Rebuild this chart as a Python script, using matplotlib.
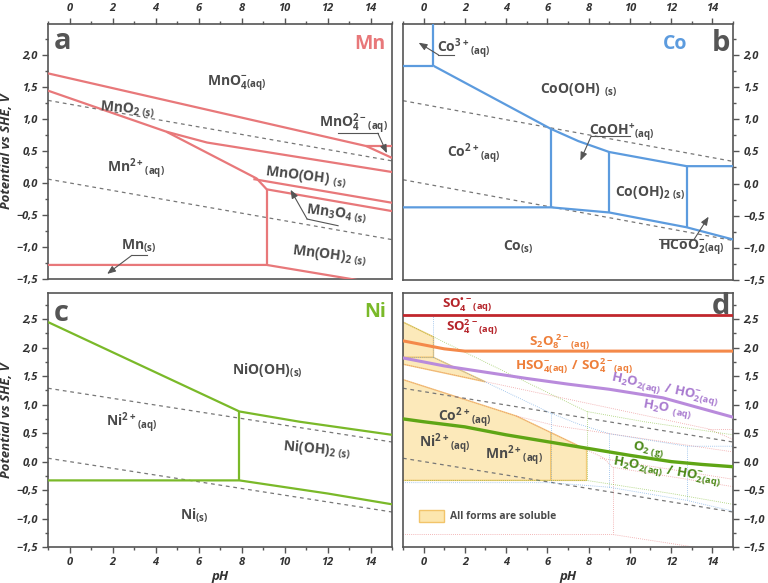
import matplotlib
matplotlib.use("Agg")
import matplotlib.pyplot as plt
from matplotlib.ticker import MultipleLocator, FuncFormatter
from matplotlib.patches import Polygon, Patch
import numpy as np

plt.rcParams['font.family'] = ['Open Sans', 'DejaVu Sans']
plt.rcParams['mathtext.fontset'] = 'custom'
plt.rcParams['mathtext.rm'] = 'Open Sans:bold'
plt.rcParams['mathtext.it'] = 'Open Sans:bold'
plt.rcParams['mathtext.bf'] = 'Open Sans:bold'
plt.rcParams['mathtext.default'] = 'bf'

# ---------------- data ----------------
water_ph = [-1, 15]
water_upper = [1.288, 0.344]
water_lower = [0.059, -0.885]

# Mn diagram boundaries (pH, E)
mn_top_ph = [-1, 13.8, 15];            mn_top_e = [1.71, 0.575, 0.39]
mn_o4_ph = [13.8, 15];                 mn_o4_e = [0.575, 0.575]
mn_mn2_ph = [-1, 4.5, 8.7, 9.17];      mn_mn2_e = [1.44, 0.80, 0.07, -0.10]
mn_mno2_ph = [4.5, 6.4, 15];           mn_mno2_e = [0.80, 0.63, 0.17]
mn_mnooh_ph = [8.55, 15];              mn_mnooh_e = [0.06, -0.31]
mn_m3o4_ph = [9.17, 15];               mn_m3o4_e = [-0.10, -0.44]
mn_vert_ph = [9.17, 9.17];             mn_vert_e = [-0.10, -1.28]
mn_metal_ph = [-1, 9.17, 13.1, 15];    mn_metal_e = [-1.28, -1.28, -1.50, -1.61]

# Co diagram boundaries
co_3v_ph = [0.48, 0.48];               co_3v_e = [1.83, 2.6]
co_3h_ph = [-1, 0.48];                 co_3h_e = [1.83, 1.83]
co_up_ph = [0.48, 6.17, 7.5, 9.0, 12.75, 15]
co_up_e = [1.83, 0.85, 0.66, 0.49, 0.27, 0.27]
co_v1_ph = [6.17, 6.17];               co_v1_e = [0.85, -0.37]
co_v2_ph = [9.0, 9.0];                 co_v2_e = [0.49, -0.45]
co_v3_ph = [12.75, 12.75];             co_v3_e = [0.27, -0.68]
co_low_ph = [-1, 6.17, 9.0, 12.75, 15]
co_low_e = [-0.37, -0.37, -0.45, -0.68, -0.87]

# Ni diagram boundaries
ni_up_ph = [-1, 7.9, 10.7, 15];        ni_up_e = [2.45, 0.88, 0.70, 0.47]
ni_v_ph = [7.9, 7.9];                  ni_v_e = [0.88, -0.33]
ni_low_ph = [-1, 7.9, 12.0, 15];       ni_low_e = [-0.33, -0.33, -0.56, -0.75]

# d: oxidant / reductant lines
so4r_ph = [-1, 15];                    so4r_e = [2.58, 2.58]
s2o8_ph = [-1, 0, 1, 2, 15];           s2o8_e = [2.12, 2.05, 1.98, 1.94, 1.94]
h2o2_ph = [-1, 1, 3, 5, 7, 9, 11.6, 13, 15]
h2o2_e = [1.82, 1.68, 1.57, 1.46, 1.36, 1.27, 1.12, 0.98, 0.78]
o2_ph = [-1, 0, 2, 4, 6, 8, 10, 12, 13.5, 15]
o2_e = [0.75, 0.70, 0.61, 0.47, 0.35, 0.23, 0.11, 0.0, -0.05, -0.09]

# "all forms soluble" polygons
sol_box = [(-1, 2.45), (0.48, 2.19), (0.48, 1.83), (-1, 1.83)]
sol_band = [(-1, 1.83), (0.48, 1.83), (3.0, 1.40), (-1, 1.71)]
sol_main = [(-1, 1.44), (4.5, 0.80), (6.17, 0.51), (6.17, -0.33), (-1, -0.33)]
sol_right = [(6.17, 0.51), (7.9, 0.21), (7.9, -0.33), (6.17, -0.33)]

# ---------------- style ----------------
C_MN = '#E8787A'
C_CO = '#5C9BDE'
C_NI = '#7AB929'
TXT = '#4B4B4B'
SPINE = '#555555'

fig = plt.figure(figsize=(7.68, 5.83), dpi=100)
ax_a = fig.add_axes([0.0625, 0.5214, 0.448, 0.4374])
ax_b = fig.add_axes([0.5247, 0.5197, 0.4297, 0.4391])
ax_c = fig.add_axes([0.0625, 0.0617, 0.448, 0.4357])
ax_d = fig.add_axes([0.5247, 0.0617, 0.4297, 0.4357])

fmt = FuncFormatter(lambda v, p: f'{v:.1f}'.replace('.', ',').replace('-', '\u2212'))
xfmt = FuncFormatter(lambda v, p: f'{v:.0f}')


def style(ax, ylim, xpos, ypos):
    ax.set_xlim(-1, 15)
    ax.set_ylim(*ylim)
    ax.xaxis.set_major_locator(MultipleLocator(2))
    ax.xaxis.set_minor_locator(MultipleLocator(1))
    ax.yaxis.set_major_locator(MultipleLocator(0.5))
    ax.yaxis.set_minor_locator(MultipleLocator(0.25))
    ax.yaxis.set_major_formatter(fmt)
    ax.xaxis.set_major_formatter(xfmt)
    for s in ax.spines.values():
        s.set_color(SPINE)
        s.set_linewidth(1.2)
    ax.tick_params(which='both', direction='out', color=SPINE, width=1.0,
                   labelsize=8, labelcolor='#333333')
    ax.tick_params(which='major', length=4)
    ax.tick_params(which='minor', length=2.5)
    if xpos == 'top':
        ax.xaxis.tick_top()
    else:
        ax.xaxis.tick_bottom()
    if ypos == 'right':
        ax.yaxis.tick_right()
    else:
        ax.yaxis.tick_left()
    for lab in ax.get_xticklabels() + ax.get_yticklabels():
        lab.set_fontweight('bold')
        lab.set_fontstyle('italic')


def water(ax):
    ax.plot(water_ph, water_upper, ls=(0, (3, 3)), color='#777777', lw=0.9, zorder=1)
    ax.plot(water_ph, water_lower, ls=(0, (3, 3)), color='#777777', lw=0.9, zorder=1)


def lab(ax, x, y, s, size=10, color=TXT, rot=0, ha='center'):
    ax.text(x, y, s, fontsize=size, color=color, rotation=rot, ha=ha, va='center',
            fontweight='bold')


def arrow(ax, pts, head):
    xs = [p[0] for p in pts]
    ys = [p[1] for p in pts]
    ax.plot(xs, ys, color='#555555', lw=0.8, zorder=4)
    ax.annotate('', xy=head, xytext=pts[-1],
                arrowprops=dict(arrowstyle='-|>,head_length=0.5,head_width=0.2',
                                color='#555555', lw=0.8, shrinkA=0, shrinkB=0), zorder=4)


mn_lines = [(mn_top_ph, mn_top_e), (mn_o4_ph, mn_o4_e), (mn_mn2_ph, mn_mn2_e),
            (mn_mno2_ph, mn_mno2_e), (mn_mnooh_ph, mn_mnooh_e), (mn_m3o4_ph, mn_m3o4_e),
            (mn_vert_ph, mn_vert_e), (mn_metal_ph, mn_metal_e)]
co_lines = [(co_3v_ph, co_3v_e), (co_3h_ph, co_3h_e), (co_up_ph, co_up_e),
            (co_v1_ph, co_v1_e), (co_v2_ph, co_v2_e), (co_v3_ph, co_v3_e),
            (co_low_ph, co_low_e)]
ni_lines = [(ni_up_ph, ni_up_e), (ni_v_ph, ni_v_e), (ni_low_ph, ni_low_e)]

# ---------------- panel a : Mn ----------------
ax = ax_a
style(ax, (-1.5, 2.48), 'top', 'left')
water(ax)
for x, y in mn_lines:
    ax.plot(x, y, color=C_MN, lw=1.6, zorder=3, solid_capstyle='butt')
ax.set_ylabel('Potential vs SHE, V', fontsize=9.5, fontweight='bold', fontstyle='italic',
              color='#333333', labelpad=2)
ax.text(-0.75, 2.2, 'a', fontsize=21, fontweight='bold', color='#555555', va='center')
ax.text(14.7, 2.17, 'Mn', fontsize=14, fontweight='bold', color=C_MN, va='center', ha='right')
lab(ax, 7.8, 1.55, r'$MnO_4^{-}{}_{(aq)}$')
lab(ax, 2.7, 1.15, r'$MnO_{2\ (s)}$', rot=-5)
lab(ax, 3.1, 0.22, r'$Mn^{2+}{}_{(aq)}$')
lab(ax, 11.0, 0.09, r'$MnO(OH)\ {}_{(s)}$', rot=-7)
lab(ax, 12.4, -0.48, r'$Mn_3O_{4\ (s)}$', rot=-7)
lab(ax, 12.1, -1.14, r'$Mn(OH)_{2\ (s)}$', rot=-7)
lab(ax, 3.2, -0.98, r'$Mn_{(s)}$')
lab(ax, 13.2, 0.93, r'$MnO_4^{2-}{}_{(aq)}$')
arrow(ax, [(3.6, -1.13), (2.9, -1.13)], (1.75, -1.42))
arrow(ax, [(12.49, -0.668), (11.05, -0.564)], (10.28, -0.107))
arrow(ax, [(12.49, 0.776), (14.34, 0.776)], (14.76, 0.464))

# ---------------- panel b : Co ----------------
ax = ax_b
style(ax, (-1.5, 2.48), 'top', 'right')
water(ax)
for x, y in co_lines:
    ax.plot(x, y, color=C_CO, lw=1.6, zorder=3, solid_capstyle='butt')
ax.text(14.85, 2.17, 'b', fontsize=21, fontweight='bold', color='#555555', va='center', ha='right')
ax.text(12.8, 2.17, 'Co', fontsize=14, fontweight='bold', color=C_CO, va='center', ha='right')
lab(ax, 1.95, 2.1, r'$Co^{3+}{}_{(aq)}$')
lab(ax, 7.5, 1.46, r'$CoO(OH)\ {}_{(s)}$')
lab(ax, 9.6, 0.79, r'$CoOH^{+}{}_{(aq)}$')
lab(ax, 2.4, 0.46, r'$Co^{2+}{}_{(aq)}$')
lab(ax, 11.0, -0.14, r'$Co(OH)_{2\ (s)}$')
lab(ax, 4.6, -0.99, r'$Co_{(s)}$')
lab(ax, 13.0, -1.0, r'$HCoO_2^{-}{}_{(aq)}$')
arrow(ax, [(1.45, 2.0), (0.72, 2.0)], (-0.24, 2.19))
arrow(ax, [(9.99, 0.74), (8.13, 0.74)], (7.6, 0.356))
arrow(ax, [(11.43, -0.866), (13.12, -0.866)], (13.82, -0.515))

# ---------------- panel c : Ni ----------------
ax = ax_c
style(ax, (-1.5, 2.96), 'bottom', 'left')
water(ax)
for x, y in ni_lines:
    ax.plot(x, y, color=C_NI, lw=1.6, zorder=3, solid_capstyle='butt')
ax.set_ylabel('Potential vs SHE, V', fontsize=9.5, fontweight='bold', fontstyle='italic',
              color='#333333', labelpad=2)
ax.set_xlabel('pH', fontsize=9.5, fontweight='bold', fontstyle='italic', color='#333333',
              labelpad=1)
ax.text(-0.75, 2.6, 'c', fontsize=21, fontweight='bold', color='#555555', va='center')
ax.text(14.7, 2.63, 'Ni', fontsize=14, fontweight='bold', color=C_NI, va='center', ha='right')
lab(ax, 9.2, 1.6, r'$NiO(OH)_{(s)}$')
lab(ax, 2.9, 0.69, r'$Ni^{2+}{}_{(aq)}$')
lab(ax, 11.5, 0.22, r'$Ni(OH)_{2\ (s)}$', rot=-5)
lab(ax, 5.8, -0.95, r'$Ni_{(s)}$')

# ---------------- panel d : overlay ----------------
ax = ax_d
style(ax, (-1.5, 2.96), 'bottom', 'right')
ax.set_xlabel('pH', fontsize=9.5, fontweight='bold', fontstyle='italic', color='#333333',
              labelpad=1)
fill_c = '#FCE6AE'
edge_c = '#F2C46A'
for poly in (sol_box, sol_band, sol_main, sol_right):
    ax.add_patch(Polygon(poly, closed=True, facecolor=fill_c, edgecolor=edge_c,
                         lw=1.0, alpha=0.85, zorder=1))
water(ax)
for lines, c in ((mn_lines, C_MN), (co_lines, C_CO), (ni_lines, C_NI)):
    for x, y in lines:
        ax.plot(x, y, color=c, lw=0.6, ls=(0, (1, 1.5)), alpha=0.7, zorder=2)
ax.plot(so4r_ph, so4r_e, color='#C1272D', lw=2.0, zorder=3)
ax.plot(s2o8_ph, s2o8_e, color='#F4894A', lw=2.2, zorder=3)
ax.plot(h2o2_ph, h2o2_e, color='#B98BDC', lw=2.2, zorder=3)
ax.plot(o2_ph, o2_e, color='#5FA515', lw=2.4, zorder=3)
ax.text(14.85, 2.72, 'd', fontsize=21, fontweight='bold', color='#555555', va='center', ha='right')
lab(ax, 2.1, 2.74, '$SO_4^{\u2022-}{}_{(aq)}$', color='#B5242A', size=9.5)
lab(ax, 2.35, 2.36, r'$SO_4^{2-}{}_{(aq)}$', color='#B5242A', size=9.5)
lab(ax, 6.6, 2.09, r'$S_2O_8^{\ 2-}{}_{(aq)}$', color='#EE7F3A', size=9.5)
lab(ax, 7.3, 1.68, r'$HSO_4^{-}{}_{(aq)}\ /\ SO_4^{2-}{}_{(aq)}$', color='#EE7F3A', size=9.5)
lab(ax, 11.7, 1.26, r'$H_2O_{2(aq)}\ /\ HO_2^{-}{}_{(aq)}$', color='#A97BD0', size=9.5, rot=-12)
lab(ax, 11.8, 0.93, r'$H_2O\ {}_{(aq)}$', color='#A97BD0', size=9.5, rot=-10)
lab(ax, 10.9, 0.22, r'$O_{2\ (g)}$', color='#4D8A1A', size=9.5, rot=-10)
lab(ax, 11.8, -0.18, r'$H_2O_{2(aq)}\ /\ HO_2^{-}{}_{(aq)}$', color='#4D8A1A', size=9.5, rot=-10)
lab(ax, 2.0, 0.78, r'$Co^{2+}{}_{(aq)}$')
lab(ax, 1.0, 0.31, r'$Ni^{2+}{}_{(aq)}$')
lab(ax, 4.4, 0.10, r'$Mn^{2+}{}_{(aq)}$')
leg = ax.legend(handles=[Patch(facecolor=fill_c, edgecolor=edge_c, lw=1.0,
                               label='All forms are soluble')],
                loc='lower left', bbox_to_anchor=(0.02, 0.06), frameon=False,
                handlelength=2.4, handleheight=1.3, handletextpad=0.6,
                prop={'weight': 'bold', 'size': 7.5})
for t in leg.get_texts():
    t.set_color(TXT)

fig.savefig('out.png', dpi=100)
